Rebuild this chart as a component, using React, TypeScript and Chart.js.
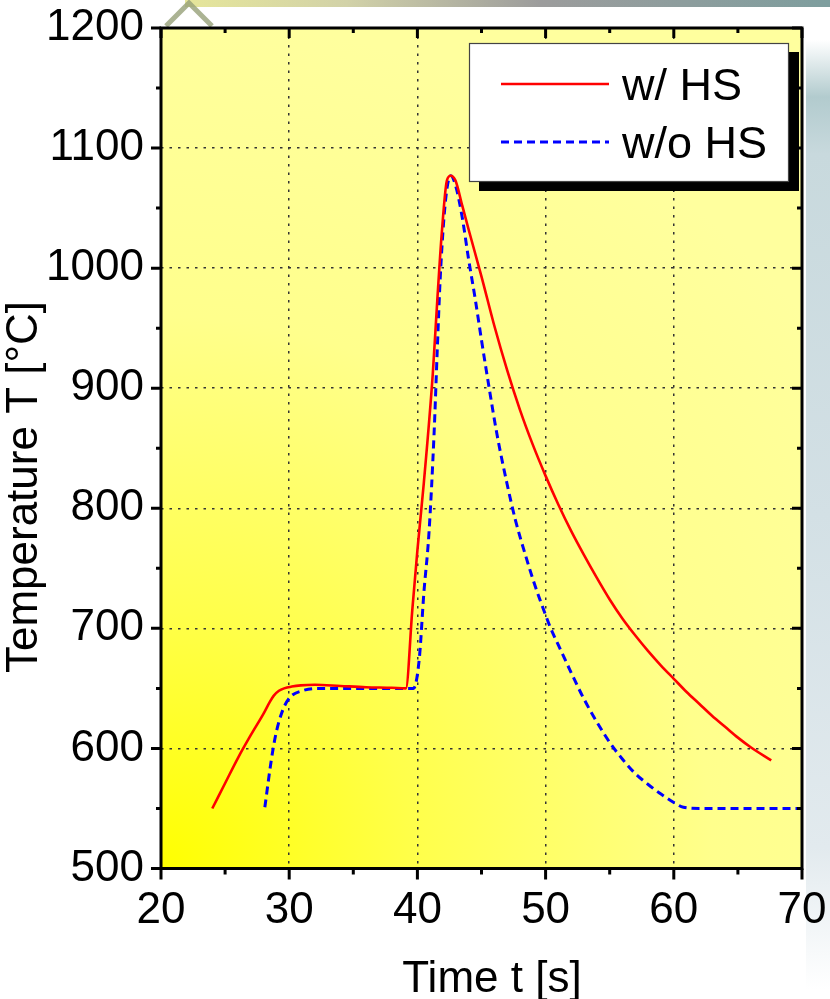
import React, { useEffect, useRef } from 'react';
import { Chart, registerables } from 'chart.js';

Chart.register(...registerables);

const FONT = '"Liberation Sans", Arial, Helvetica, sans-serif';

// ---- data ----
const seriesLabels = ['w/ HS', 'w/o HS'];

const timeWithHS = [
  24.0, 25.0, 26.0, 27.0, 28.0, 28.5, 28.8, 29.2, 29.6, 30.2, 30.9, 32.0, 34.0, 36.0, 38.0, 39.1,
  39.6, 40.0, 40.5, 41.2, 41.55, 41.9, 42.3, 42.6, 42.97, 43.5, 44.0, 45.0, 46.0, 47.0, 48.0,
  49.0, 50.0, 51.0, 52.0, 53.0, 54.0, 55.0, 56.0, 57.0, 58.0, 59.0, 60.0, 61.0, 62.0, 63.0,
  64.0, 65.0, 66.0, 67.6,
];
const tempWithHS = [
  550, 571, 592, 611, 629, 639, 644, 648, 650, 651.5, 652.5, 653, 652, 651, 650.5, 650,
  715, 765, 821, 912, 973, 1029, 1073, 1077, 1073, 1052, 1032, 993, 952, 915, 882,
  853, 827, 803, 781, 761, 742, 724, 708, 694, 681, 669, 658, 647, 637, 627,
  618, 609, 601, 590,
];

const timeWithoutHS = [
  28.1, 28.6, 28.96, 29.5, 30.1, 31.0, 32.2, 35.0, 39.7, 40.15, 40.5, 40.9, 41.3, 41.55, 41.8,
  42.2, 42.6, 43.0, 43.5, 44.0, 44.5, 45.0, 45.6, 46.2, 47.0, 47.65, 48.4, 49.1, 50.0, 50.4,
  51.0, 52.0, 53.0, 54.0, 55.0, 56.0, 57.0, 58.0, 59.0, 60.0, 60.75, 62.0, 70.0,
];
const tempWithoutHS = [
  551, 590, 612, 632, 643, 648, 650, 650, 650, 675, 729, 779, 862, 932, 996,
  1057, 1077, 1068, 1042, 1007, 975, 940, 900, 862, 820, 790, 762, 738, 711, 700,
  686, 663, 641, 622, 605, 591, 579, 570, 562, 555, 551, 550, 550,
];

const xMajorTicks = [20, 30, 40, 50, 60, 70];
const xMinorTicks = [25, 35, 45, 55, 65];
const yMajorTicks = [500, 600, 700, 800, 900, 1000, 1100, 1200];
const yMinorTicks = [550, 650, 750, 850, 950, 1050, 1150];

const xAxisTitle = 'Time t [s]';
const yAxisTitle = 'Temperature T [°C]';

// ---- plugins ----
const backgroundPlugin = {
  id: 'bgDecor',
  beforeDraw(chart: any) {
    const { ctx, chartArea: a, width, height } = chart;
    ctx.save();
    ctx.fillStyle = '#ffffff';
    ctx.fillRect(0, 0, width, height);

    // right side decoration strip
    const rs = ctx.createLinearGradient(0, 40, 0, 990);
    rs.addColorStop(0, 'rgba(255,255,255,1)');
    rs.addColorStop(0.06, '#b2cbce');
    rs.addColorStop(0.12, '#c8d9dd');
    rs.addColorStop(0.5, '#d3e0e5');
    rs.addColorStop(0.85, '#e2eaee');
    rs.addColorStop(1, 'rgba(255,255,255,1)');
    ctx.fillStyle = rs;
    ctx.fillRect(a.right + 4, 40, width - a.right - 4, 950);

    // top decoration bar
    const tb = ctx.createLinearGradient(185, 0, width, 0);
    tb.addColorStop(0, '#e6e69a');
    tb.addColorStop(0.25, '#d2d2a8');
    tb.addColorStop(0.55, '#9c9c9c');
    tb.addColorStop(1, '#7e9e9e');
    ctx.fillStyle = tb;
    ctx.fillRect(185, 0, width - 185, 7);
    ctx.strokeStyle = 'rgba(150,160,120,0.8)';
    ctx.lineWidth = 5;
    ctx.beginPath();
    ctx.moveTo(166, 26);
    ctx.lineTo(189, 3);
    ctx.lineTo(212, 26);
    ctx.stroke();

    // plot area gradient
    const g = ctx.createRadialGradient(a.left, a.bottom, 0, a.left, a.bottom, 850);
    g.addColorStop(0, '#ffff00');
    g.addColorStop(0.3, '#ffff4a');
    g.addColorStop(0.65, '#ffff8c');
    g.addColorStop(1, '#ffff9e');
    ctx.fillStyle = g;
    ctx.fillRect(a.left, a.top, a.right - a.left, a.bottom - a.top);
    ctx.restore();
  },
};

const framePlugin = {
  id: 'frameTicks',
  afterDatasetsDraw(chart: any) {
    const { ctx, chartArea: a, scales } = chart;
    const xs = scales.x;
    const ys = scales.y;
    ctx.save();
    ctx.strokeStyle = '#000';
    ctx.lineWidth = 3;
    ctx.lineCap = 'butt';
    ctx.beginPath();
    const seg = (x1: number, y1: number, x2: number, y2: number) => {
      ctx.moveTo(x1, y1);
      ctx.lineTo(x2, y2);
    };
    xMajorTicks.forEach((v) => {
      const p = xs.getPixelForValue(v);
      seg(p, a.bottom, p, a.bottom + 11);
      seg(p, a.top, p, a.top + 10);
    });
    xMinorTicks.forEach((v) => {
      const p = xs.getPixelForValue(v);
      seg(p, a.bottom, p, a.bottom + 6);
      seg(p, a.top, p, a.top + 5);
    });
    yMajorTicks.forEach((v) => {
      const p = ys.getPixelForValue(v);
      seg(a.left - 10, p, a.left, p);
      seg(a.right - 10, p, a.right, p);
    });
    yMinorTicks.forEach((v) => {
      const p = ys.getPixelForValue(v);
      seg(a.left - 5, p, a.left, p);
      seg(a.right - 5, p, a.right, p);
    });
    ctx.stroke();
    ctx.strokeRect(a.left, a.top, a.right - a.left, a.bottom - a.top);
    ctx.restore();
  },
  afterDraw(chart: any) {
    const { ctx, chartArea: a } = chart;
    ctx.save();
    // legend
    const bx = a.right - 333;
    const by = a.top + 15;
    const bw = 320;
    const bh = 139;
    ctx.fillStyle = '#000';
    ctx.fillRect(bx + 10, by + 9, bw, bh);
    ctx.fillStyle = '#fff';
    ctx.fillRect(bx, by, bw, bh);
    ctx.strokeStyle = '#444';
    ctx.lineWidth = 1.2;
    ctx.strokeRect(bx + 0.5, by + 0.5, bw - 1, bh - 1);
    const ds = chart.data.datasets;
    const rows = [by + 41, by + 99];
    ctx.font = `45px ${FONT}`;
    ctx.textAlign = 'left';
    ctx.textBaseline = 'alphabetic';
    ds.forEach((d: any, i: number) => {
      const ly = rows[i];
      ctx.strokeStyle = d.borderColor;
      ctx.lineWidth = d.borderWidth;
      ctx.setLineDash(d.borderDash || []);
      ctx.beginPath();
      ctx.moveTo(bx + 32, ly);
      ctx.lineTo(bx + 140, ly);
      ctx.stroke();
      ctx.setLineDash([]);
      ctx.fillStyle = '#000';
      ctx.fillText(d.label, bx + 153, ly + 16);
    });

    // axis titles
    ctx.fillStyle = '#000';
    ctx.font = `44px ${FONT}`;
    ctx.textAlign = 'center';
    ctx.textBaseline = 'alphabetic';
    ctx.fillText(xAxisTitle, 492, 992);
    ctx.translate(37, 487);
    ctx.rotate(-Math.PI / 2);
    ctx.fillText(yAxisTitle, 0, 0);
    ctx.restore();
  },
};

export default function App() {
  const ref = useRef<HTMLCanvasElement | null>(null);

  useEffect(() => {
    document.body.style.margin = '0';
    document.body.style.overflow = 'hidden';
    const canvas = ref.current;
    if (!canvas) return;
    const chart = new Chart(canvas, {
      type: 'line',
      data: {
        datasets: [
          {
            label: seriesLabels[0],
            data: timeWithHS.map((t, i) => ({ x: t, y: tempWithHS[i] })),
            borderColor: '#ff0000',
            borderWidth: 2.6,
            pointRadius: 0,
            cubicInterpolationMode: 'monotone',
            fill: false,
          },
          {
            label: seriesLabels[1],
            data: timeWithoutHS.map((t, i) => ({ x: t, y: tempWithoutHS[i] })),
            borderColor: '#0000ff',
            borderWidth: 3,
            borderDash: [8, 5],
            pointRadius: 0,
            cubicInterpolationMode: 'monotone',
            fill: false,
          },
        ],
      },
      options: {
        animation: false,
        responsive: false,
        devicePixelRatio: 1,
        layout: { padding: { top: 28, right: 28, left: 0, bottom: 0 } },
        plugins: {
          legend: { display: false },
          title: { display: false },
          tooltip: { enabled: false },
        },
        scales: {
          x: {
            type: 'linear',
            min: 20,
            max: 70,
            afterBuildTicks: (s: any) => {
              s.ticks = xMajorTicks.map((v) => ({ value: v }));
            },
            afterFit: (s: any) => {
              s.height = 130.5;
              s.paddingLeft = 0;
              s.paddingRight = 0;
            },
            ticks: {
              color: '#000',
              font: { family: FONT, size: 44 },
              padding: 16,
              maxRotation: 0,
              autoSkip: false,
              callback: (v: any) => String(v),
            },
            grid: { drawTicks: false, color: '#333', lineWidth: 1.5 },
            border: { display: false, dash: [2.5, 6] },
          },
          y: {
            type: 'linear',
            min: 500,
            max: 1200,
            afterBuildTicks: (s: any) => {
              s.ticks = yMajorTicks.map((v) => ({ value: v }));
            },
            afterFit: (s: any) => {
              s.width = 161;
              s.paddingTop = 0;
              s.paddingBottom = 0;
            },
            ticks: {
              color: '#000',
              font: { family: FONT, size: 44 },
              padding: 17,
              autoSkip: false,
              callback: (v: any) => String(v),
            },
            grid: { drawTicks: false, color: '#333', lineWidth: 1.5 },
            border: { display: false, dash: [2.5, 6] },
          },
        },
      } as any,
      plugins: [backgroundPlugin, framePlugin],
    });
    return () => chart.destroy();
  }, []);

  return (
    <div style={{ width: 830, height: 999 }}>
      <canvas ref={ref} width={830} height={999} style={{ display: 'block', width: 830, height: 999 }} />
    </div>
  );
}
